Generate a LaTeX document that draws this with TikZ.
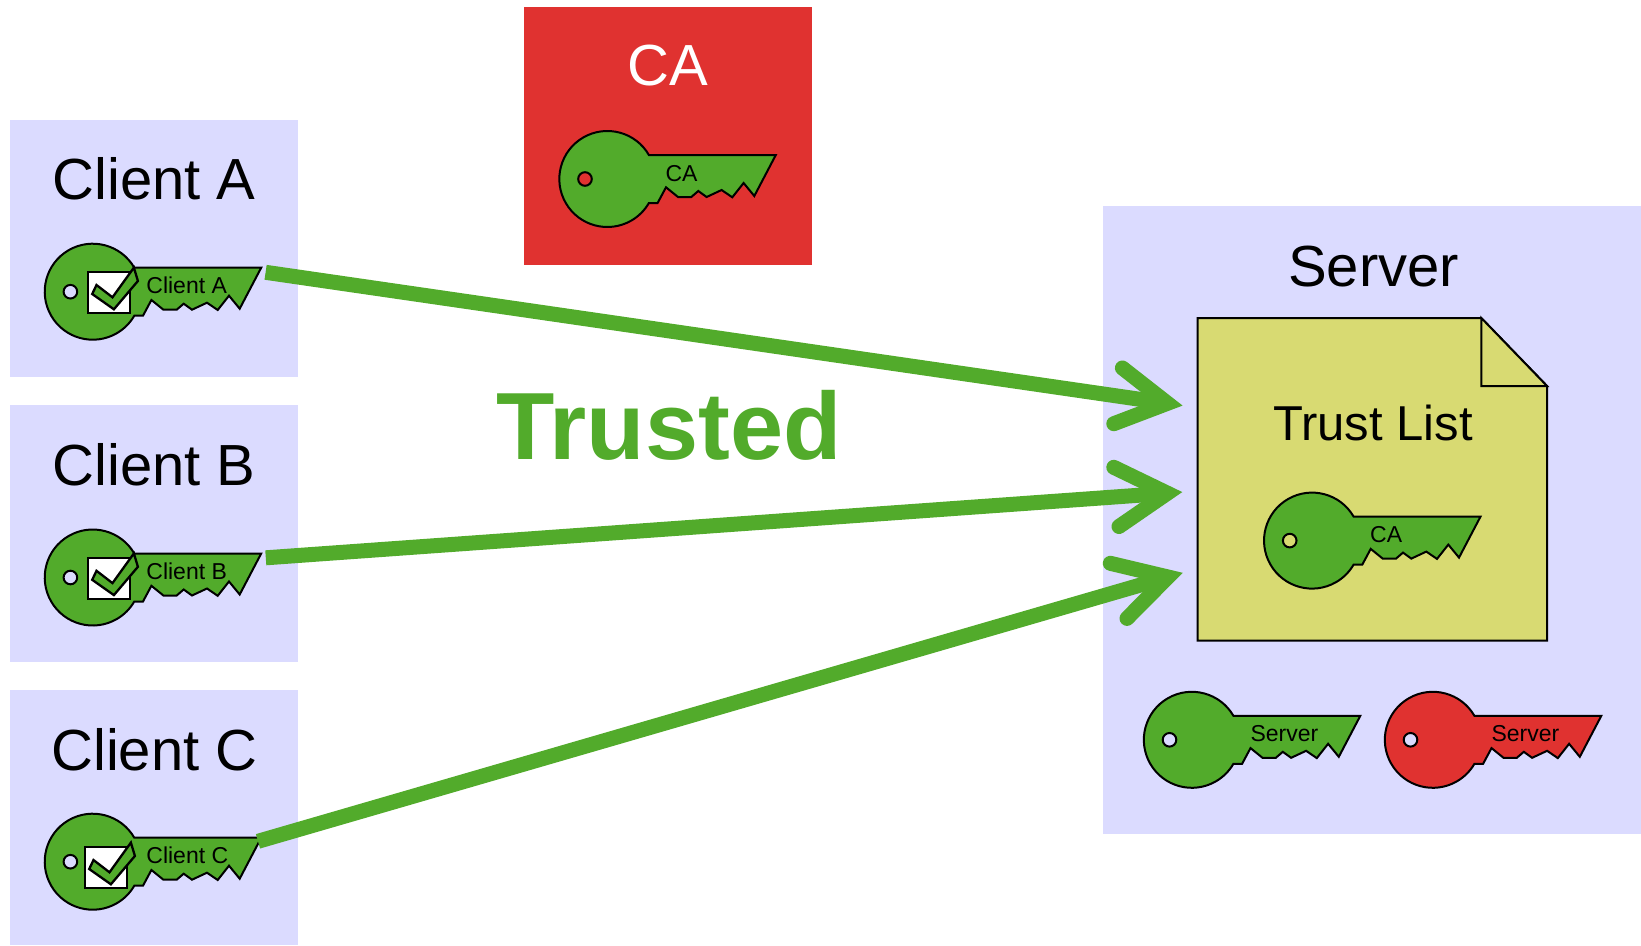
\documentclass[tikz,border=0pt]{standalone}
\usepackage{fontspec}
\setmainfont{Liberation Sans}
\definecolor{kgreen}{HTML}{52AB2B}
\definecolor{kred}{HTML}{E03230}
\definecolor{lav}{HTML}{DBDBFF}
\definecolor{doc}{HTML}{D8DA72}
\tikzset{
  panel/.style={inner sep=0pt,outer sep=0pt,draw=none},
  title/.style={anchor=base,inner sep=0pt,font=\fontsize{58}{58}\selectfont},
  keytext/.style={anchor=base west,inner sep=0pt,font=\fontsize{23}{23}\selectfont},
  keyline/.style={draw=black,line width=2pt,line join=miter},
  trustline/.style={draw=kgreen,line width=15pt},
  barb/.style={draw=kgreen,line width=15pt,line cap=round,line join=miter}
}
% #1 name, #2 centre, #3 fill, #4 hole, #5 label, #6 label dx
\newcommand{\keyglyph}[6]{%
  \begin{scope}[shift={#2}]
    \coordinate (#1) at (0,0);
    \path[keyline,fill=#3] (41.6,-24) arc[start angle=-30,end angle=-330,radius=48]
      -- (50.3,24) -- (58.7,8.3) -- (70.7,18) -- (84,18) -- (91,12) -- (99.3,18)
      -- (114.3,11) -- (125,18.3) -- (136.3,4) -- (147,17) -- (168.5,-24) -- cycle;
    \path[keyline,fill=#4] (-22.3,0) circle[radius=6.8];
    \node[keytext] (#1label) at (#6,2) {#5};
  \end{scope}}
% #1 top left of the tick box
\newcommand{\tickbox}[1]{%
  \begin{scope}[shift={#1}]
    \path[draw=black,line width=2.3pt,fill=white] (0,0) rectangle (41.5,41);
    \path[keyline,line width=2.3pt,fill=kgreen] (45.7,-4.7) -- (49.7,8.7) -- (25.7,37) -- (4,21.7) -- (8.3,12.7) -- (24.3,25) -- cycle;
  \end{scope}}
\begin{document}
\begin{tikzpicture}[x=1pt,y=-1pt]
\useasboundingbox (0,0) rectangle (1641,945);
% panels
\node[panel,fill=lav,minimum width=287.5pt,minimum height=257pt] (boxA) at (154,248.5) {};
\node[panel,fill=lav,minimum width=287.5pt,minimum height=257pt] (boxB) at (154,533.5) {};
\node[panel,fill=lav,minimum width=287.5pt,minimum height=255pt] (boxC) at (154,817.5) {};
\node[panel,fill=kred,minimum width=288pt,minimum height=258pt] (boxCA) at (668,136) {};
\node[panel,fill=lav,minimum width=538pt,minimum height=628pt] (boxS) at (1372,520) {};
% titles
\node[title] (tA) at (154,199.5) {Client A};
\node[title] (tB) at (154,485) {Client B};
\node[title] (tC) at (154.5,770) {Client C};
\node[title,text=white] (tCA) at (668,85) {CA};
\node[title] (tS) at (1373.5,286) {Server};
\node[anchor=base,inner sep=0pt,font=\bfseries\fontsize{95.5}{95.5}\selectfont,text=kgreen] (trusted) at (669,459) {Trusted};
% trust list document
\path[keyline,fill=doc] (1197.7,318) -- (1481.3,318) -- (1547,386) -- (1547,640.5) -- (1197.7,640.5) -- cycle;
\path[keyline,fill=doc] (1481.3,318) -- (1481.3,386) -- (1547,386) -- cycle;
\node[anchor=base,inner sep=0pt,font=\fontsize{49}{49}\selectfont] (tlist) at (1373,440.5) {Trust List};
% keys
\keyglyph{kCA}{(607.3,179)}{kgreen}{kred}{CA}{58}
\keyglyph{kA}{(92.7,291.7)}{kgreen}{lav}{Client A}{53.5}
\keyglyph{kB}{(92.7,577.5)}{kgreen}{lav}{Client B}{53.5}
\keyglyph{kC}{(92.7,861.7)}{kgreen}{lav}{Client C}{53.5}
\keyglyph{kT}{(1312,540.6)}{kgreen}{doc}{CA}{58}
\keyglyph{kSg}{(1191.8,739.8)}{kgreen}{lav}{Server}{58.5}
\keyglyph{kSr}{(1432.8,739.8)}{kred}{lav}{Server}{58.5}
\tickbox{(88.2,272.3)}
\tickbox{(88.2,558.1)}
\tickbox{(85.2,847.3)}
% connectors
\coordinate (sA) at (265.6,272.3);
\coordinate (sB) at (265.8,557.8);
\coordinate (sC) at (258,841.3);
\coordinate (vA) at (1167.5,403.3);
\coordinate (vB) at (1167.4,493.2);
\coordinate (vC) at (1168,577);
\coordinate (a1) at (1122.4,368);
\coordinate (a2) at (1113.8,423.7);
\coordinate (b1) at (1113.8,467.3);
\coordinate (b2) at (1119,526.5);
\coordinate (c1) at (1110.3,563.3);
\coordinate (c2) at (1127,618.4);
\draw[trustline] (sA) -- (vA);
\draw[barb] (a1) -- (vA) -- (a2);
\draw[trustline] (sB) -- (vB);
\draw[barb] (b1) -- (vB) -- (b2);
\draw[trustline] (sC) -- (vC);
\draw[barb] (c1) -- (vC) -- (c2);
\end{tikzpicture}
\end{document}
